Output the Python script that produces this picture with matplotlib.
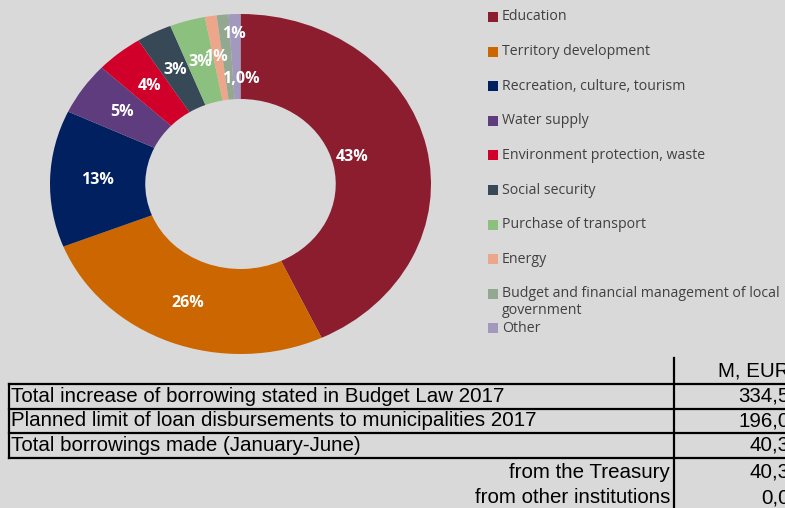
import matplotlib.pyplot as plt
import matplotlib.patches as mpatches
import numpy as np

# loan purposes, share of total borrowing (%)
categories = [
    "Education",
    "Territory development",
    "Recreation, culture, tourism",
    "Water supply",
    "Environment protection, waste",
    "Social security",
    "Purchase of transport",
    "Energy",
    "Budget and financial management of local\ngovernment",
    "Other",
]
shares = [43, 26, 13, 5, 4, 3, 3, 1, 1, 1]
share_labels = ["43%", "26%", "13%", "5%", "4%", "3%", "3%", "1%", "1,0%", "1%"]
colors = ["#8b1d2f", "#cc6600", "#002060", "#5e3c7e", "#d0002a",
          "#374856", "#8cc07f", "#eda68a", "#93a890", "#a398bd"]

# borrowing summary table (M, EUR)
table_rows = [
    "Total increase of borrowing stated in Budget Law 2017",
    "Planned limit of loan disbursements to municipalities 2017",
    "Total borrowings made (January-June)",
]
table_values = ["334,5", "196,0", "40,3"]
sub_rows = ["from the Treasury", "from other institutions"]
sub_values = ["40,3", "0,0"]

BG = "#d9d9d9"
W, H = 785, 508

fig = plt.figure(figsize=(W / 100, H / 100), dpi=100, facecolor=BG)

# donut chart (slightly stretched horizontally)
ax = fig.add_axes([50 / W, (H - 354) / H, 381 / W, 340 / H])
ax.set_facecolor(BG)
wedges, _ = ax.pie(shares, colors=colors, startangle=90, counterclock=False,
                   radius=1, wedgeprops=dict(width=0.5, edgecolor="none"))
ax.set_aspect("auto")
ax.set_xlim(-1, 1)
ax.set_ylim(-1, 1)
ax.axis("off")

# hand-placed labels for a few slices
label_pos = {0: (0.587, 0.159), 7: (-0.13, 0.747), 8: (0.0, 0.62), 9: (-0.037, 0.88)}
for i, w in enumerate(wedges):
    if i in label_pos:
        x, y = label_pos[i]
    else:
        mid = np.deg2rad((w.theta1 + w.theta2) / 2)
        x, y = 0.75 * np.cos(mid), 0.75 * np.sin(mid)
    ax.text(x, y, share_labels[i], ha="center", va="center", color="white",
            fontsize=11.5, fontweight="bold", family="Open Sans", clip_on=False)

# overlay in pixel coordinates for legend and table
ov = fig.add_axes([0, 0, 1, 1])
ov.set_xlim(0, W)
ov.set_ylim(H, 0)
ov.axis("off")
ov.patch.set_alpha(0)

lfont = dict(color="#404040", fontsize=10.2, family="Open Sans")
for i, (name, c) in enumerate(zip(categories, colors)):
    y = 17 + i * 34.6
    ov.add_patch(mpatches.Rectangle((488, y - 5), 10, 10, color=c, lw=0))
    if "\n" in name:
        ov.text(502, y - 8, name, va="top", linespacing=1.2, **lfont)
    else:
        ov.text(502, y, name, va="center", **lfont)

# table
tfont = dict(fontsize=14.8, family="Liberation Sans", color="black")
ov.text(790, 371, "M, EUR", ha="right", va="center", **tfont)
line_ys = [384, 408.5, 433, 457.5]
for ly in line_ys:
    ov.plot([8.5, W + 5], [ly, ly], color="black", lw=1.6, clip_on=False)
ov.plot([8.5, 8.5], [line_ys[0], line_ys[-1]], color="black", lw=1.6)
ov.plot([673.5, 673.5], [358, H + 5], color="black", lw=1.6, clip_on=False)
for j, (lab, val) in enumerate(zip(table_rows, table_values)):
    yc = (line_ys[j] + line_ys[j + 1]) / 2
    ov.text(11, yc, lab, ha="left", va="center", **tfont)
    ov.text(790, yc, val, ha="right", va="center", **tfont)
for j, (lab, val) in enumerate(zip(sub_rows, sub_values)):
    yc = 472 + j * 25.5
    ov.text(670, yc, lab, ha="right", va="center", **tfont)
    ov.text(790, yc, val, ha="right", va="center", **tfont)

fig.savefig("out.png", dpi=100, facecolor=BG)
